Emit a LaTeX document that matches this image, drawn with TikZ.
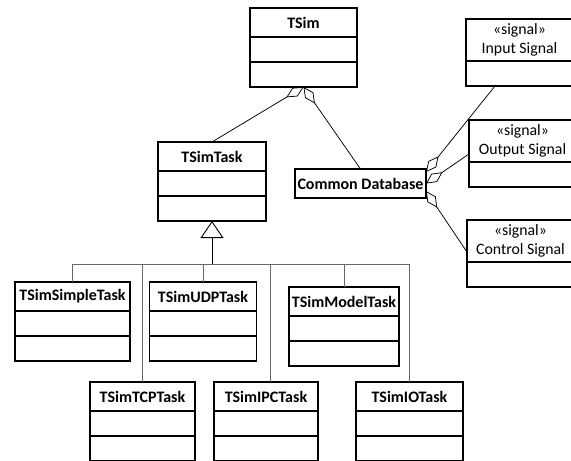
\documentclass[tikz,border=0pt]{standalone}
\usepackage{fontspec}
\setmainfont{Carlito}
\usetikzlibrary{positioning, arrows.meta}

\begin{document}
\begin{tikzpicture}[
    x=1pt, y=-1pt,
    node distance=0pt,
    cls/.style={rectangle, draw=black, line width=1.1pt, outer sep=0pt, inner sep=0pt,
                minimum height=29pt, font=\fontsize{16}{19.5}\selectfont\bfseries},
    cmp/.style={rectangle, draw=black, line width=1.1pt, outer sep=0pt, inner sep=0pt,
                minimum height=25pt},
    sig/.style={rectangle, draw=black, line width=1.1pt, outer sep=0pt, inner sep=0pt,
                minimum width=107pt, minimum height=42pt, align=center,
                font=\fontsize{15.8}{19.5}\selectfont},
    agg/.style={{Diamond[open, length=20pt, width=10pt]}-, black, line width=0.75pt},
    gen/.style={-{Triangle[open, length=17pt, width=23pt]}, black, line width=0.9pt},
    bus/.style={gray!80!black, line width=0.7pt}
  ]
    \useasboundingbox (0,0) rectangle (571,461);

    % TSim (top)
    \node[cls, minimum width=107pt] (tsim) at (303.5, 22.5) {TSim};
    \node[cmp, minimum width=107pt, below=of tsim] (tsim-a) {};
    \node[cmp, minimum width=107pt, below=of tsim-a] (tsim-b) {};

    % TSimTask
    \node[cls, minimum width=108pt] (task) at (212, 156.5) {TSimTask};
    \node[cmp, minimum width=108pt, below=of task] (task-a) {};
    \node[cmp, minimum width=108pt, below=of task-a] (task-b) {};

    % Common Database
    \node[cls, minimum width=131pt] (db) at (360.5, 183.5) {Common Database};

    % Signals (right, cut by the page edge)
    \node[sig] (insig) at (519.5, 40) {«signal»\\Input Signal};
    \node[cmp, minimum width=107pt, below=of insig] (insig-a) {};
    \node[sig] (outsig) at (522.5, 141) {«signal»\\Output Signal};
    \node[cmp, minimum width=107pt, below=of outsig] (outsig-a) {};
    \node[sig] (ctlsig) at (520.5, 241) {«signal»\\Control Signal};
    \node[cmp, minimum width=107pt, below=of ctlsig] (ctlsig-a) {};

    % Task subclasses, upper row
    \node[cls, minimum width=115pt] (simple) at (72.5, 296.5) {TSimSimpleTask};
    \node[cmp, minimum width=115pt, below=of simple] (simple-a) {};
    \node[cmp, minimum width=115pt, below=of simple-a] (simple-b) {};
    \node[cls, minimum width=107pt] (udp) at (203, 296.5) {TSimUDPTask};
    \node[cmp, minimum width=107pt, below=of udp] (udp-a) {};
    \node[cmp, minimum width=107pt, below=of udp-a] (udp-b) {};
    \node[cls, minimum width=110pt] (model) at (344, 301.5) {TSimModelTask};
    \node[cmp, minimum width=110pt, below=of model] (model-a) {};
    \node[cmp, minimum width=110pt, below=of model-a] (model-b) {};

    % Task subclasses, lower row
    \node[cls, minimum width=105pt] (tcp) at (142.5, 396.5) {TSimTCPTask};
    \node[cmp, minimum width=105pt, below=of tcp] (tcp-a) {};
    \node[cmp, minimum width=105pt, below=of tcp-a] (tcp-b) {};
    \node[cls, minimum width=104pt] (ipc) at (266, 396.5) {TSimIPCTask};
    \node[cmp, minimum width=104pt, below=of ipc] (ipc-a) {};
    \node[cmp, minimum width=104pt, below=of ipc-a] (ipc-b) {};
    \node[cls, minimum width=107pt] (io) at (409.5, 396.5) {TSimIOTask};
    \node[cmp, minimum width=107pt, below=of io] (io-a) {};
    \node[cmp, minimum width=107pt, below=of io-a] (io-b) {};

    % Generalization
    \coordinate (bus) at (212, 264);
    \draw[gen] (bus) -- (task-b.south);
    \foreach \c in {simple, udp, model, tcp, io}
      \draw[bus] (\c.north) |- (bus);
    \draw[bus] ([xshift=4pt]ipc.north) |- (bus);

    % Aggregations
    \draw[agg] (tsim-b.south) -- (task.north);
    \draw[agg] (tsim-b.south) -- (db.north);
    \draw[agg] ([yshift=11.5pt]db.east) -- ([xshift=29pt]insig-a.south west);
    \draw[agg] (db.east) -- ([yshift=-13pt]outsig.west);
    \draw[agg] ([yshift=-7.5pt]db.east) -- ([yshift=-11pt]ctlsig.west);

\end{tikzpicture}
\end{document}
